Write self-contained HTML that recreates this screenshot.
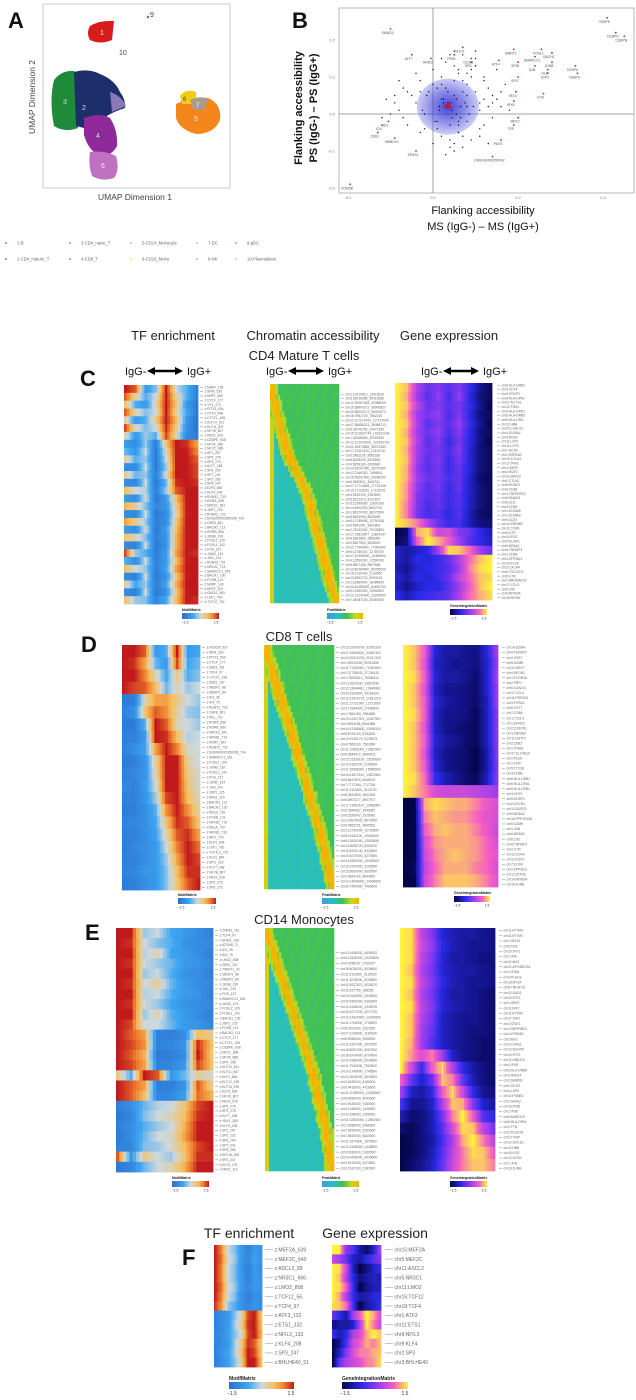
<!DOCTYPE html>
<html><head><meta charset="utf-8"><title>Figure</title>
<style>
html,body{margin:0;padding:0;background:#fff;}
svg{display:block;font-family:"Liberation Sans",sans-serif;}
.hd{font-size:13px;fill:#222;}
.pl{font-size:22px;font-weight:bold;fill:#111;}
</style></head>
<body>
<svg id="fig" width="636" height="1400" viewBox="0 0 636 1400" xmlns="http://www.w3.org/2000/svg">
<defs>
<linearGradient id="gMotif"><stop offset="0" stop-color="#2a6fcf"/><stop offset="0.3" stop-color="#3ea6f2"/><stop offset="0.5" stop-color="#ccd8de"/><stop offset="0.7" stop-color="#f5c060"/><stop offset="0.85" stop-color="#ee7a2c"/><stop offset="1" stop-color="#c01a1c"/></linearGradient>
<linearGradient id="gPeak"><stop offset="0" stop-color="#3d9be6"/><stop offset="0.3" stop-color="#25c0c8"/><stop offset="0.55" stop-color="#3cbf55"/><stop offset="0.8" stop-color="#c8da1c"/><stop offset="1" stop-color="#f8b000"/></linearGradient>
<linearGradient id="gGene"><stop offset="0" stop-color="#05054a"/><stop offset="0.3" stop-color="#2a2ae8"/><stop offset="0.55" stop-color="#9a3cf0"/><stop offset="0.78" stop-color="#f45cc4"/><stop offset="1" stop-color="#fff23c"/></linearGradient>
<radialGradient id="gBlob"><stop offset="0" stop-color="#2020c8" stop-opacity="0.85"/><stop offset="0.6" stop-color="#3a3ad8" stop-opacity="0.55"/><stop offset="1" stop-color="#6a6ae8" stop-opacity="0.35"/></radialGradient>
</defs>

<!-- Panel A -->
<text class="pl" x="8" y="28">A</text>
<g>
<rect x="43" y="4" width="187" height="184" fill="#fff" stroke="#bbb" stroke-width="0.8"/>
<path d="M90,26 Q100,20 114,21 L112,40 Q100,45 90,40 Q86,33 90,26Z" fill="#d81c1c"/>
<path d="M54,80 Q62,70 74,71 L80,78 L78,128 Q65,133 54,126 Q49,100 54,80Z" fill="#1f8a3a"/>
<path d="M74,72 Q88,68 100,74 Q115,80 120,92 Q126,100 125,108 Q112,112 104,118 L84,128 L76,126 Z" fill="#1c2f6a"/>
<path d="M110,92 Q122,96 126,106 L112,112Z" fill="#8a78b8"/>
<path d="M84,118 Q100,112 110,118 Q118,130 117,146 Q112,156 100,156 Q88,150 84,135Z" fill="#8e2a9a"/>
<path d="M90,152 Q104,150 116,156 Q120,170 114,178 Q102,182 92,176 Q88,164 90,152Z" fill="#c070c0"/>
<path d="M176,104 Q190,96 208,98 Q222,104 220,120 Q214,134 196,134 Q180,130 176,118Z" fill="#f5861c"/>
<path d="M180,96 Q186,88 196,92 L196,104 L182,104Z" fill="#f2cc14"/>
<path d="M190,100 Q200,95 208,99 L204,110 L194,110Z" fill="#a89c92"/>
<circle cx="148" cy="17" r="1.2" fill="#c05050"/>
<text x="100" y="35" font-size="7" fill="#eee">1</text>
<text x="150" y="17" font-size="7" fill="#444">9</text>
<text x="119" y="55" font-size="7" fill="#444">10</text>
<text x="63" y="104" font-size="7" fill="#ddd">3</text>
<text x="82" y="110" font-size="7" fill="#ddd">2</text>
<text x="96" y="138" font-size="7" fill="#ddd">4</text>
<text x="101" y="168" font-size="7" fill="#eee">6</text>
<text x="194" y="121" font-size="7" fill="#eee">5</text>
<text x="183" y="101" font-size="6" fill="#444">6</text>
<text x="196" y="107" font-size="6" fill="#eee">7</text>
<text x="135" y="200" font-size="8.5" fill="#444" text-anchor="middle">UMAP Dimension 1</text>
<text x="0" y="0" font-size="8.5" fill="#444" text-anchor="middle" transform="translate(35,97) rotate(-90)">UMAP Dimension 2</text>
</g>

<g id="legend"></g>

<text class="pl" x="292" y="28">B</text>
<g id="scatter"></g>

<text class="hd" x="173" y="340" text-anchor="middle">TF enrichment</text>
<text class="hd" x="313" y="340" text-anchor="middle">Chromatin accessibility</text>
<text class="hd" x="449" y="340" text-anchor="middle">Gene expression</text>

<text class="hd" x="304" y="360" text-anchor="middle">CD4 Mature T cells</text>
<text class="pl" x="80" y="386">C</text>
<text class="hd" x="299" y="641" text-anchor="middle">CD8 T cells</text>
<text class="pl" x="81" y="652">D</text>
<text class="hd" x="304" y="924" text-anchor="middle">CD14 Monocytes</text>
<text class="pl" x="85" y="940">E</text>

<text class="hd" x="249" y="1238" text-anchor="middle" style="font-size:14px">TF enrichment</text>
<text class="hd" x="375" y="1238" text-anchor="middle" style="font-size:14px">Gene expression</text>
<text class="pl" x="182" y="1265">F</text>

<g id="heatmaps"></g>
</svg>

<script>
// ---------------- Scatter data (panel B) ----------------
const labeledNames = ["SMAD3","ATF7","ARID2","OLIG1","TFEB","OLIG3","SPI1","ATF4","DMRT2","FOSL1","BACH1","SMARCC1","SPIB","JUN","JUNB","HLF","JDP2","SPIC","CEBPA","CEBPG","CEBPE","CEBPD","CEBPB","IRX4","FOS","IRX6","MEF2","TEF","PAX3","ENSG00000250542","KDM5B","ID3","ID4","ZEB1","HMBOX1","EPAS1"];
const labeledX = [-0.10,-0.05,-0.005,0.07,0.05,0.09,0.09,0.155,0.19,0.255,0.28,0.24,0.20,0.24,0.28,0.27,0.27,0.20,0.335,0.34,0.41,0.43,0.45,0.195,0.26,0.19,0.20,0.19,0.16,0.14,-0.195,-0.105,-0.12,-0.13,-0.09,-0.04];
const labeledY = [0.23,0.16,0.15,0.18,0.16,0.15,0.14,0.145,0.175,0.175,0.165,0.155,0.14,0.13,0.14,0.12,0.11,0.10,0.13,0.11,0.26,0.22,0.21,0.06,0.055,0.035,-0.01,-0.03,-0.07,-0.115,-0.19,-0.02,-0.03,-0.05,-0.065,-0.10];
const bgX = [0.03,0.05,-0.02,0.08,0.10,0.00,-0.04,0.06,0.12,0.02,-0.06,0.09,0.04,-0.01,0.07,0.11,-0.08,0.13,0.01,0.05,-0.03,0.08,0.14,-0.05,0.02,0.06,0.10,-0.07,0.15,0.00,0.04,0.09,-0.09,0.12,0.03,0.07,-0.02,0.16,0.05,0.01,0.11,-0.04,0.08,0.13,0.06,-0.06,0.02,0.10,0.17,-0.10,0.04,0.14,0.07,-0.03,0.09,0.18,0.00,0.05,0.12,-0.11,
 0.015,0.035,0.055,0.025,0.045,0.065,-0.015,0.075,0.085,0.005,0.035,0.055,0.015,0.045,0.025,0.065,-0.025,0.095,0.03,0.04,0.06,0.02,0.01,0.07,0.05,-0.03,0.08,0.11,0.13,0.06,0.09,0.04,0.07,0.02,0.10,0.12,-0.07,-0.09,0.15,0.16,0.08,0.10,0.07,0.05,0.11,0.14,-0.12,-0.08,0.03,0.06];
const bgY = [0.02,0.05,0.00,-0.02,0.06,0.08,0.03,-0.05,0.04,0.10,-0.03,0.12,-0.07,0.06,0.09,-0.04,0.01,0.07,-0.02,0.13,0.09,0.02,-0.01,0.05,-0.06,0.11,0.15,-0.01,0.04,0.12,-0.09,-0.07,0.03,0.10,0.14,0.16,-0.04,0.02,-0.10,0.07,0.01,0.11,0.08,-0.08,-0.03,0.06,0.04,0.13,0.08,0.00,0.03,0.05,-0.06,-0.05,0.10,0.01,-0.08,0.17,-0.03,0.04,
 0.01,0.03,0.00,0.04,-0.01,0.02,0.05,0.03,0.00,-0.02,0.06,0.04,0.02,0.01,0.03,-0.01,0.01,0.02,0.07,-0.03,-0.02,0.08,-0.04,0.06,0.09,0.06,0.05,0.03,0.02,0.12,0.14,0.16,0.18,0.15,0.17,0.09,0.07,0.05,0.12,0.06,0.11,0.13,-0.09,-0.08,-0.06,0.03,-0.01,0.09,-0.11,-0.05];
const xTicks = [-0.2,0.0,0.2,0.4];
const yTicks = [-0.2,-0.1,0.0,0.1,0.2];

const NS="http://www.w3.org/2000/svg";
function mk(tag, attrs, parent){const e=document.createElementNS(NS,tag);for(const k in attrs)e.setAttribute(k,attrs[k]);parent.appendChild(e);return e;}

const sx = v => 433 + v*425;
const sy = v => 114 - v*370;
(function(){
  const g=document.getElementById('scatter');
  const fr=mk('rect',{x:339,y:8,width:295,height:185,fill:'#fff',stroke:'#999','stroke-width':0.7},g);
  
  
  const v=mk('line',{x1:sx(0),x2:sx(0),y1:8,y2:193,stroke:'#888','stroke-width':0.8},g);
  
  
  const h=mk('line',{x1:339,x2:634,y1:sy(0),y2:sy(0),stroke:'#888','stroke-width':0.8},g);
  
  
  const blob=mk('ellipse',{cx:sx(0.035),cy:sy(0.02),rx:31,ry:28,fill:'url(#gBlob)'},g);
  
  
  bgX.forEach((x,i)=>{
    const c=mk('circle',{cx:sx(x),cy:sy(bgY[i]),r:0.7,fill:'#111'},g);
    
    
  });
  labeledNames.forEach((n,i)=>{
    const c=mk('circle',{cx:sx(labeledX[i]),cy:sy(labeledY[i]),r:0.9,fill:'#d02030'},g);
    
    
    const t=mk('text',{x:sx(labeledX[i])-3,y:sy(labeledY[i])+5,'font-size':3.4,fill:'#555','text-anchor':'middle'},g);
    t.textContent=n;
    
    
  });
  const star=mk('text',{x:sx(0.035),y:sy(0.02)+3,'font-size':9,fill:'#e01010','text-anchor':'middle'},g);
  star.textContent='✱';
  
  
  xTicks.forEach(t=>{
    const l=mk('text',{x:sx(t),y:199,'font-size':4,fill:'#777','text-anchor':'middle'},g);
    l.textContent=t.toFixed(1);
    
    
  });
  yTicks.forEach(t=>{
    const l=mk('text',{x:335,y:sy(t)+1.5,'font-size':4,fill:'#777','text-anchor':'end'},g);
    l.textContent=t.toFixed(1);
    
    
  });
  const x1=mk('text',{x:483,y:214,'font-size':11,fill:'#111','text-anchor':'middle'},g);
  x1.textContent='Flanking accessibility';
  
  
  const x2=mk('text',{x:483,y:230,'font-size':11,fill:'#111','text-anchor':'middle'},g);
  x2.textContent='MS (IgG-) – MS (IgG+)';
  
  
  const y1=mk('text',{x:0,y:0,'font-size':11,'font-weight':'bold',fill:'#111','text-anchor':'middle',transform:'translate(302,108) rotate(-90)'},g);
  y1.textContent='Flanking accessibility';
  
  
  const y2=mk('text',{x:0,y:0,'font-size':11,'font-weight':'bold',fill:'#111','text-anchor':'middle',transform:'translate(317,108) rotate(-90)'},g);
  y2.textContent='PS (IgG-) – PS (IgG+)';
  
  
})();

// ---------------- Legend ----------------
const legendNames = ["1-B","3-CD4_naive_T","5-CD14_Monocyte","7-DC","9-pDC","2-CD4_mature_T","4-CD8_T","6-CD16_Mono","8-NK","10-Plasmablast"];
const legendColors = ["#d81c1c","#1f8a3a","#f5861c","#a89c92","#c05050","#1c2f6a","#8e2a9a","#f2cc14","#8a78b8","#aaa"];
(function(){
  const g=document.getElementById('legend');
  const cx=[6,70,131,197,236];
  legendNames.forEach((n,i)=>{
    const col=i%5,row=Math.floor(i/5);
    const y=243+row*16;
    const d=mk('circle',{cx:cx[col],cy:y,r:0.8,fill:legendColors[i]},g);
    
    
    const t=mk('text',{x:cx[col]+11,y:y+1.5,'font-size':4.2,fill:'#666'},g);
    t.textContent=n;
    
    
  });
})();

// ---------------- Heatmap data ----------------
const tfC = [
[1.5,1.2,-0.8,-0.3,1.5,0,-0.5,-1.2],[1.2,0.3,-0.5,0,1.5,0.3,-0.5,-1.2],[0.5,-0.5,-0.8,0.2,1.5,0.5,-0.8,-1.3],[1.2,0.2,-0.3,0,1.5,0.3,-0.6,-1.3],
[0.3,-0.8,-0.5,0.4,1.5,0.6,-0.8,-1.4],[1.3,0.1,-0.3,0,1.4,0.4,-0.9,-1.4],[0.2,-0.8,-0.2,-0.5,1.3,0.2,-1,-1.3],[-0.8,-1,-0.2,-1.2,0.5,1.5,1.4,0.8],
[-0.4,-0.8,0,-1.3,0.2,1.5,1.5,1.0],[0.3,-0.5,-0.2,-1.3,0,1.5,1.5,1.2],[-1,-1,0,-1.3,-0.2,1.5,1.5,1.3],[0.4,-0.4,-0.2,-1.2,0.1,1.5,1.5,1.3],
[-1,-1.1,0,-1.3,-0.4,1.4,1.5,1.4],[0.6,0,-0.1,-1.2,-0.2,1.2,1.5,1.5],[-0.8,-1,0.1,-1.3,-0.8,0.6,1.5,1.5],[0.7,0.3,-0.3,-1.1,-0.9,0.4,1.5,1.5],
[-1,-1.1,0,-1.3,-1,0.3,1.5,1.5],[0.8,0.4,-0.2,-1.2,-1,0.5,1.5,1.5],[-0.8,-1,0.1,-1.3,-0.8,0.6,1.5,1.5],[0.5,0.2,-0.3,-1.2,-0.9,0.7,1.5,1.5],
[-1,-1.2,0,-1.3,-0.9,0.7,1.5,1.5],[1.3,-0.2,-0.5,-1.2,-0.8,0.8,1.5,1.4],[-0.5,-1,0,-1.2,-0.8,0.6,1.5,1.5],[0.6,0,-0.2,-1.2,-0.7,0.8,1.5,1.5],
[-1,-1.2,0,-1.3,-0.9,0.5,1.5,1.5],[0.3,-0.6,-0.2,-1.2,-0.7,0.7,1.5,1.5],[-1,-1.2,0,-1.3,-0.9,0.5,1.5,1.5],[0.5,-0.2,-0.3,-1.1,-0.6,0.6,1.5,1.4]];
const tfD = [
[1.5,1.5,1.2,-0.8,-0.5,1.5,-0.8,-0.6],[1.5,1.4,0.8,-0.4,-0.8,1.3,-0.6,-0.4],[1.5,1.5,1.0,0.2,-0.6,0.4,-0.5,-0.3],[1.5,1.3,1.2,0.6,-0.4,0.2,-0.2,0],
[-1.3,-1.2,0.2,0.8,0.8,0.4,0,-0.2],[-1.2,-1.0,0.5,1.2,0.9,0.3,-0.2,-0.3],[-1.3,-1.3,-0.5,1.5,1.2,0.2,0,-0.2],[-1.2,-1.2,-0.8,1.5,1.4,0.6,-0.1,0],
[-1.2,-1.0,-0.7,0.8,1.5,1.0,0.1,0],[-1.3,-1.2,-0.9,0.3,1.5,1.5,0.3,0],[-1.2,-1.1,-0.9,0.2,1.5,1.5,0.4,0.1],[-1.1,-1.2,-0.8,0,1.5,1.5,0.5,0.1],
[-1.2,-1.2,-0.9,-0.2,1.3,1.5,0.6,0.2],[-1.3,-1.2,-1,-0.5,0.9,1.5,0.9,0.3],[-1.2,-1.1,-1,-0.6,0.5,1.4,1.2,0.5],[-1.2,-1.2,-1,-0.7,0.2,1.2,1.4,0.8],
[-1.3,-1.1,-1,-0.8,0,1,1.5,1.1],[-1.2,-1.2,-1,-0.8,-0.2,0.8,1.5,1.3],[-1.2,-1.1,-0.9,-0.8,-0.3,0.6,1.4,1.4],[-1.3,-1.2,-1,-0.8,-0.3,0.5,1.2,1.5]];
const tfE = [
[1.5,1.5,-0.2,0,-0.6,-0.8,-1,-1.2],[1.5,1.4,0,-0.3,-0.5,-0.9,-1,-1.1],[1.5,1.5,-0.1,0.2,-0.6,-0.8,-1,-1.2],[1.5,1.4,0,-0.2,-0.4,-0.8,-0.9,-1.1],
[1.5,1.5,-0.2,0,-0.5,-0.9,-1,-1.2],[1.5,1.4,0,0.3,-0.4,-0.8,-1,-1.1],[1.5,1.5,-0.1,0,-0.5,-0.8,-0.9,-1.2],[1.5,1.4,0,-0.2,-0.6,-0.9,-1,-1.1],
[1.5,1.5,-0.2,0.2,-0.5,-0.8,-1,-1.2],[1.5,1.3,0,0,-0.4,-0.8,-0.9,-1.1],[1.5,1.2,0.8,-1.2,-1.2,-1,0.6,0.4],[1.5,1.3,0.9,-1.2,-1.1,-0.9,1.4,0.6],
[1.5,1.2,0.7,-1.3,-1.2,-1,1.5,0.5],[1.5,1.3,0.8,-1.2,-1.1,-0.8,1.3,0.6],[0.4,-0.5,1.5,1.2,-0.8,-0.4,0.3,0.1],[1.5,1.2,0.8,-1.2,-1.2,-0.9,1.2,0.4],
[1.5,1.2,0.6,-1.1,-1.1,-0.7,1.1,0.7],[-1.2,-1,-0.4,-0.1,0,0.5,1.3,1.5],[-1.3,-1.1,-0.3,0,0.2,0.6,1.4,1.5],[-1.2,-1,-0.5,-0.2,0,0.7,1.5,1.5],
[-1.3,-1,-0.4,0,0.1,0.8,1.5,1.5],[-1.2,-1.1,-0.3,-0.2,0.1,0.6,1.3,1.5],[1.2,-0.8,0.4,0,-0.2,0.5,1.4,1.4],[-1.3,-1.1,-0.4,0,0.2,0.7,1.5,1.5]];
const chromPeakC = [0.02,0.03,0.05,0.07,0.09,0.11,0.13,0.15,0.17,0.19,0.21,0.23,0.26,0.29,0.32,0.36,0.40,0.44,0.48,0.52,0.55,0.57,0.59,0.61,0.63,0.65,0.67,0.69,0.71,0.73,0.75,0.77,0.79,0.81,0.83,0.85,0.87,0.90,0.93,0.96];
const chromPeakD = [0.03,0.05,0.08,0.10,0.13,0.15,0.18,0.20,0.23,0.26,0.28,0.31,0.33,0.36,0.39,0.41,0.44,0.47,0.49,0.52,0.55,0.57,0.60,0.62,0.65,0.67,0.70,0.72,0.75,0.77,0.80,0.82,0.84,0.86,0.88,0.90,0.92,0.94,0.96,0.98];
const chromPeakE = [0.02,0.04,0.07,0.10,0.13,0.16,0.19,0.22,0.25,0.28,0.31,0.34,0.37,0.40,0.43,0.46,0.49,0.52,0.55,0.58,0.61,0.63,0.66,0.68,0.71,0.73,0.75,0.77,0.79,0.81,0.83,0.85,0.87,0.89,0.90,0.92,0.93,0.94,0.95,0.96];
const geneC = [
[1.5,1.3,0.3,-0.2,0,-0.3,0,-0.5,-1.1,-1.4],[1.5,1.2,0.2,-0.3,0.1,-0.4,0.1,-0.6,-1.2,-1.4],[1.5,1.3,0.4,-0.2,0,-0.3,-0.1,-0.5,-1.1,-1.5],[1.5,1.2,0.2,-0.1,0.1,-0.4,0,-0.6,-1.2,-1.4],
[1.5,1.3,0.3,-0.3,0,-0.3,0.1,-0.5,-1.1,-1.5],[1.5,1.2,0.2,-0.2,0.1,-0.4,0,-0.6,-1.2,-1.4],[1.5,1.3,0.3,-0.3,0,-0.5,-0.1,-0.6,-1.2,-1.5],[1.5,1.2,0.2,-0.2,-0.1,-0.4,0,-0.7,-1.2,-1.4],
[1.5,1.3,0.2,-0.3,0,-0.5,-0.1,-0.7,-1.2,-1.4],[1.5,1.2,0.1,-0.3,-0.1,-0.5,-0.2,-0.7,-1.2,-1.4],[1.5,1.2,0.2,-0.2,-0.1,-0.4,-0.2,-0.8,-1.3,-1.4],[1.5,1.1,0.1,-0.3,-0.1,-0.5,-0.2,-0.8,-1.2,-1.4],
[1.5,1.1,0,-0.3,-0.2,-0.5,-0.3,-0.8,-1.2,-1.4],[1.5,1.0,0,-0.4,-0.2,-0.5,-0.3,-0.8,-1.2,-1.4],[1.5,1.0,-0.1,-0.4,-0.3,-0.6,-0.3,-0.9,-1.3,-1.4],[1.5,1.3,1.0,0.3,-0.2,-0.5,-0.4,-0.9,-1.2,-1.3],
[-1.5,-1.3,1.2,1.4,0.5,0.6,0,-0.2,-0.6,-0.9],[-1.4,-1.2,0.8,1.5,1.2,0.8,0.2,-0.3,-0.6,-0.8],[-0.8,-1,-0.8,-0.6,0.2,1.4,1.3,0.9,0.2,-0.2],[-0.8,-1,-0.6,-0.7,-0.5,-0.2,0.3,0.9,1.3,1.5],
[-0.9,-1.1,-0.7,-0.6,-0.5,-0.3,0.2,1.0,1.4,1.5],[-0.7,-1,-0.6,-0.7,-0.5,-0.2,0.4,0.9,1.3,1.4],[-0.8,-1.1,-0.8,-0.6,-0.6,-0.3,0.2,0.8,1.3,1.5],[-0.6,-0.9,-0.6,-0.5,-0.4,-0.2,0.3,0.9,1.2,1.4]];
const geneD = [
[1.5,1.3,0.8,-0.7,-1,-1,-1.1,-1.2,-0.7,0.2],[1.5,1.3,0.7,-0.8,-1,-1.1,-1.1,-1.2,-0.8,0.1],[1.5,1.4,0.8,-0.7,-1,-1,-1.1,-1.3,-0.8,0.2],[1.5,1.3,0.7,-0.8,-1.1,-1.1,-1.2,-1.3,-0.8,0.1],
[1.5,1.3,0.8,-0.7,-1,-1.1,-1.2,-1.3,-0.9,0.1],[1.5,1.4,0.8,-0.8,-1.1,-1.1,-1.2,-1.4,-0.9,0],[1.5,1.3,0.7,-0.8,-1.1,-1.2,-1.3,-1.4,-0.9,0],[1.5,1.3,0.8,-0.7,-1,-1.1,-1.3,-1.4,-0.9,0],
[1.5,1.3,0.7,-0.8,-1.1,-1.2,-1.3,-1.5,-1,0],[1.5,1.3,0.8,-0.7,-1.1,-1.2,-1.3,-1.5,-1,-0.1],[1.5,1.4,0.9,-0.5,-0.9,-1.1,-1.3,-1.4,-0.9,0],[1.5,1.3,1.0,0.6,0.5,0.5,0.5,0.4,0.3,0.2],
[-1.5,-1.5,1.2,1.4,1.3,1.2,1.2,1.0,0.8,0.6],[-1.5,-1.5,1.0,1.3,1.2,1.1,1.1,0.9,0.7,0.6],[-1.5,-1.5,0.8,1.2,1.3,1.2,1.2,1.0,0.8,0.5],[-1.5,-1.5,0.6,1.1,1.2,1.2,1.2,1.1,0.9,0.6],
[-1.5,-1.5,0.5,1.0,1.2,1.3,1.2,1.1,0.9,0.7],[-1.5,-1.4,0.4,0.9,1.2,1.2,1.2,1.0,0.9,0.6],[-1.5,-1.5,0.5,1.0,1.3,1.3,1.3,1.2,1.0,0.7]];
const geneE = [
[1.5,1.4,0.4,0,-0.7,-0.9,-1,-1,-1.1,-1.2],[1.5,1.4,0.5,0.1,-0.6,-0.9,-1,-1.1,-1.1,-1.2],[1.5,1.4,0.4,0,-0.7,-1,-1,-1.1,-1.2,-1.2],[1.5,1.3,0.3,-0.1,-0.7,-0.9,-1,-1,-1.1,-1.2],
[1.5,1.4,0.4,0,-0.6,-0.9,-1,-1.1,-1.1,-1.2],[1.5,1.3,0.3,-0.1,-0.7,-1,-1,-1.1,-1.2,-1.3],[1.5,1.4,0.4,0,-0.7,-0.9,-1,-1.1,-1.2,-1.3],[1.5,1.3,0.3,-0.1,-0.8,-1,-1.1,-1.1,-1.2,-1.3],
[1.5,1.3,0.2,-0.2,-0.8,-1,-1.1,-1.2,-1.2,-1.3],[1.5,1.2,0.2,-0.3,-0.8,-1,-1.1,-1.2,-1.3,-1.3],[1.5,1.1,0.6,1.0,0.2,-0.8,-1.1,-1.2,-1.3,-1.3],[1.5,0.5,-0.5,0.8,1.4,0.3,-0.6,-1,-1.2,-1.3],
[0.8,-0.2,-0.8,-0.2,1.3,1.0,-0.2,-0.9,-1.2,-1.3],[0.2,-0.8,-1,-0.6,0.8,1.4,0.5,-0.6,-1.1,-1.2],[-0.4,-1.1,-1.1,-0.8,0.3,1.3,1.2,0,-0.8,-1],[-0.9,-1.3,-1.2,-0.9,-0.1,1.0,1.5,0.8,-0.3,-0.6],
[-1.3,-1.4,-1.2,-0.9,-0.3,0.6,1.4,1.3,0.4,-0.1],[-1.5,-1.4,-1.2,-1,-0.4,0.3,1.2,1.5,1.0,0.4],[-1.5,-1.4,-1.2,-0.9,-0.3,0.4,1.0,1.4,1.3,0.8],[-1.5,-1.3,-1.1,-0.8,-0.2,0.5,1.0,1.3,1.3,1.0]];
const tfF = [
[1.5,1.0,0,-0.3,-0.8,-1.2,-0.8,-0.9],[1.5,1.1,0.1,-0.2,-0.8,-1.1,-0.7,-0.9],[1.5,1.0,0,-0.3,-0.9,-1.2,-0.8,-1],[1.5,1.0,0,-0.3,-0.8,-1.2,-0.8,-0.9],
[1.5,1.1,0.1,-0.2,-0.8,-1.1,-0.8,-0.9],[1.5,1.0,0,-0.3,-0.9,-1.2,-0.9,-1],[1.4,0.9,-0.2,-0.5,-0.9,-1.1,-0.9,-1],
[-1.2,-1,-0.8,-0.3,0.2,1.3,1.5,0.5],[-1.2,-1,-0.8,-0.2,0.3,1.4,1.5,0.6],[-1.1,-1,-0.7,-0.3,0.1,1.3,1.5,0.7],[-1.2,-1,-0.8,-0.2,0.4,1.4,1.2,0.4],[-1.2,-0.9,-0.7,-0.2,0.5,1.5,1.3,0.5],[-1.2,-1,-0.7,-0.3,0.3,1.5,1.5,0.6]];
const geneF = [
[1.5,1.5,0,-0.3,-1,-1.3,-0.8,0.3],[0.5,0.2,-0.2,-0.8,-1,-0.6,-0.3,0],[1.5,1.4,0.5,-0.8,-1.5,-1.2,-0.8,-0.5],[1.5,1.3,0.3,-0.6,-1.2,-1,-0.8,-0.9],
[1.5,1.4,0.8,-0.5,-1.5,-1.1,-0.9,-0.8],[1.5,1.2,0.3,-0.5,-1,-0.9,-0.7,-0.6],[1.4,1.3,0.9,-0.4,-1.5,-1,-0.8,-0.5],[-0.2,-0.6,-1,0.2,0.8,1.5,1.2,0.6],
[-1.2,-1,-1,-0.8,0.3,1.5,1.0,0.5],[-0.5,-0.9,-0.6,0.3,0.6,1.2,1.5,1.3],[-1.5,-1.1,-0.4,0.5,0.8,1.2,1.0,1.3],[-1.5,-0.8,0,0.6,1.0,1.0,1.2,1.3],[-1.5,-0.2,0.3,0.5,0.7,1.0,1.1,1.4]];

const tfLabelsC = ["z:MAFF_155","z:SPIB_336","z:NRF1_605","z:CTCF_177","z:YY1_173","z:PITX3_504","z:OTX2_848","z:CTCFL_198","z:KLF14_201","z:KLF11_847","z:NFYB_807","z:PBX3_516","z:CEBPE_938","z:NFYA_288","z:NFYC_889","z:SP1_267","z:SP5_275","z:SP3_274","z:KLF7_188","z:SP6_290","z:SP7_241","z:SP2_283","z:SP8_247","z:E2F6_846","z:KLF4_208","z:RUNX1_733","z:RORA_658","z:NR1D2_641","z:JDP2_125","z:RUNX2_732","z:ENSG00000250096_734","z:CBFB_801","z:BACH2_113","z:RORB_860","z:JUNB_139","z:FOSL2_105","z:FOSL1_142","z:FOS_137","z:JUND_124","z:JUN_143","z:RUNX3_731","z:NR1D1_713","z:SMARCC1_651","z:BACH1_130","z:FOSB_121","z:NNRF_143","z:NFE2_119","z:GATA1_383","z:LEF1_780","z:TCF12_792"];
const tfLabelsD = ["z:HOXD8_537","z:IRF8_633","z:PITX3_504","z:CTCF_177","z:ZEB1_161","z:TCF4_97","z:CTCFL_198","z:ZEB1_157","z:MESP1_88","z:MESP2_84","z:ID3_35","z:ID4_75","z:RUNX1_733","z:CBFB_801","z:REL_721","z:RORA_658","z:RORB_860","z:NR1D2_641","z:NFKB1_719","z:RORC_661","z:RUNX2_732","z:ENSG00000250096_734","z:SMARCC1_651","z:FOSL2_105","z:JUNB_139","z:FOSL1_142","z:FOS_137","z:JUND_124","z:JUN_143","z:JDP2_125","z:NFE2_119","z:BACH2_113","z:BACH1_130","z:RELB_718","z:FOSB_121","z:NFKB2_719","z:RELA_722","z:NFKB1_716","z:IRF2_720","z:KLF4_208","z:LEF1_780","z:TCF7L2_762","z:KLF2_849","z:SPI1_322","z:KLF7_188","z:NFYB_807","z:PBX3_516","z:SP6_275","z:SP8_273"];
const tfLabelsE = ["z:ZNF82_161","z:TCF4_97","z:SNAI1_199","z:ATOH8_71","z:ID3_35","z:ID4_75","z:LMO2_808","z:ZEB1_157","z:TWIST1_42","z:MESP1_88","z:MESP2_84","z:JUNB_139","z:JUN_143","z:FOS_137","z:SMARCC1_651","z:JUND_124","z:FOSL2_105","z:FOSL1_142","z:BACH1_130","z:JDP2_125","z:FOSB_121","z:BACH2_113","z:CTCF_177","z:CTCFL_198","z:CEBPE_938","z:NFYC_808","z:NFYA_888","z:SP4_195","z:KLF14_201","z:KLF11_847","z:KLF2_846","z:KLF12_238","z:KLF15_878","z:KLF5_698","z:NFYB_807","z:PBX3_516","z:SP5_275","z:SP3_278","z:KLF7_188","z:YBX1_280","z:KLF4_208","z:SP1_267","z:SP9_232","z:SP6_290","z:SP7_241","z:SP8_283","z:KLF16_205","z:SP2_247","z:KLF6_175","z:NFE2_119"];
const chromLabelsC = ["chr1:13019810_13019810","chr5:35415086_35415086","chr12:92087509_92088009","chr19:38900272_38900827","chr20:58000172_58000672","chr16:7961725_7962225","chr11:117217040_117217640","chr17:38488213_38488713","chr6:24076750_24077250","chr15:101821744_101822244","chr1:32008660_32009160","chr12:121000200_121000700","chr21:46973882_46974382","chr17:13110210_13110710","chr5:3861128_3861628","chr8:8228030_8228530","chr4:6299180_6299680","chr14:35797400_35797900","chr12:7466300_7466800","chr16:59297600_59298100","chr6:3840811_3841311","chr17:17714648_17715148","chr10:17118225_17118725","chr4:9163100_9163600","chr5:8131313_8131813","chr3:12599660_12600160","chr14:6522200_6522700","chr1:86270000_86270500","chr8:8633095_8633595","chr5:12789608_12790108","chr6:5641391_5641891","chr2:79133300_79133800","chr17:23813647_23814147","chr8:2867860_2868360","chr2:6527500_6528000","chr11:77900400_77900900","chr5:12789200_12789700","chr17:12456000_12456500","chr4:12599200_12599700","chr5:9507158_9507658","chr14:66764500_66765000","chr16:2130000_2130500","chr10:8392715_8393215","chr1:16484000_16484500","chr11:64455200_64455700","chr9:12950000_12950500","chr12:12290000_12290500","chr7:34087150_34087650"];
const chromLabelsD = ["chr13:32090709_32091209","chr17:34066824_34067324","chr12:20216700_20217200","chr1:50910050_50910550","chr11:71300000_71300500","chr2:37735643_37736143","chr1:76065612_76066112","chr1:13810030_13810530","chr11:13944481_13944981","chr3:15163600_15164100","chr13:12810715_12811215","chr11:12721300_12721800","chr3:17644920_17645420","chr1:7884180_7884680","chr10:12427001_12427501","chr2:8941188_8941688","chr10:13188600_13189100","chr5:8752100_8752600","chr13:9139179_9139679","chr4:7563160_7563660","chr11:12862000_12862500","chr6:3844472_3844972","chr12:15230100_15230600","chr10:2162100_2162600","chr11:15956000_15956500","chr14:14672161_14672661","chr4:8447600_8448100","chr7:7717284_7717784","chr11:3113200_3113700","chr8:3541800_3542300","chr6:8907477_8907977","chr17:13962167_13962667","chr2:3944957_3945457","chr8:3326042_3326542","chr12:8979000_8979500","chr5:4565151_4565651","chr1:12730000_12730500","chr8:15181100_15181600","chr5:13520150_13520650","chr13:5008720_5009220","chr12:5320140_5320640","chr10:5270000_5270500","chr4:15300000_15300500","chr13:3190000_3190500","chr15:5600000_5600500","chr3:8944100_8944600","chr14:14008000_14008500","chr20:7460000_7460500"];
const chromLabelsE = ["chr13:4436432_4436932","chr6:13325000_13325500","chr4:3798797_3799297","chr16:5036000_5036500","chr11:5116000_5116500","chr11:3218000_3218500","chr12:9227870_9228370","chr16:157755_158255","chr10:3444500_3445000","chr20:5300000_5300500","chr12:2448200_2448700","chr15:4271200_4271700","chr13:14325000_14325500","chr11:1706000_1706500","chr8:2521000_2521500","chr17:1130000_1130500","chr6:9058400_9058900","chr11:2307000_2307500","chr18:8087000_8087500","chr18:8704000_8704500","chr10:5346000_5346500","chr11:7940000_7940500","chr14:1748000_1748500","chr12:3618000_3618500","chr3:6180000_6180500","chr5:4418000_4418500","chr11:11390000_11390500","chr8:9090000_9090500","chr1:9180000_9180500","chr2:1448000_1448500","chr3:1258000_1258500","chr11:12800000_12800500","chr1:9288000_9288500","chr2:5250000_5250500","chr1:5840000_5840500","chr11:1874000_1874500","chr12:1448000_1448500","chr9:9180000_9180500","chr14:4436000_4436500","chr3:9470000_9470500","chr2:2187100_2187600"];
const geneLabelsC = ["chr6:HLA-DRB1","chr3:CD74","chr9:FOXP3","chr6:HLA-DPA1","chr17:ACTG1","chr12:TMA1","chr6:HLA-DPB1","chr6:HLA-DRB5","chr6:HLA-DRA","chr11:HBB","chr20:LGALS1","chr1:S100A4","chr3:RGS1","chr11:LSP1","chr11:LCP2","chr7:ACTB","chr1:HSPA1B","chr19:CTLA4","chr17:IFIH1","chr1:CBFB","chr2:IKZF2","chr11:MAGI3","chr2:CTLA4","chr6:RUNX3","chr6:CD83","chr1:TNFRSF18","chr5:SMAD3","chr6:CD2","chr3:CD69","chr1:S100A8","chr1:S100A9","chr5:CD27","chr12:ZNF683","chr11:CCR6","chr5:IL7R","chr14:FOS","chr5:DUSP1","chr5:NR4A1","chr6:TNFAIP3","chr1:CD69","chr2:ZFP36L2","chr19:KLF6","chr3:CXCR4","chr6:TSC22D3","chr5:IL7R","chr2:ARHGAP15","chr17:CCL5","chr6:LTB","chr6:NFKBIA","chr15:RORA"];
const geneLabelsD = ["chr14:GZMH","chr4:FGFBP2","chr2:CRK7","chr5:GZMB","chr12:NKG7","chr4:SPON2","chr1:FCGR3A","chr2:PRF1","chr6:LGALS1","chr17:CCL4","chr11:PRSS23","chr3:FCRL6","chr5:CST7","chr7:CD8A","chr17:CCL3","chr1:EFHD2","chr2:CX3CR1","chr1:ZNF683","chr11:GSTP1","chr2:ZEB2","chr1:ITGB2","chr17:SLC4A10","chr2:PLEK","chr1:FGR","chr5:TTC38","chr3:CD8B","chr6:HLA-DRB1","chr6:HLA-DPA1","chr6:HLA-DPB1","chr14:FOS","chr5:DUSP1","chr2:CXCR4","chr12:DUSP2","chr9:NR4A2","chr16:PPP1R15A","chr5:GZMK","chr1:JUN","chr6:NR4A3","chr6:LTB","chr6:TNFAIP3","chr2:IL7R","chr12:CCR4","chr11:IKZF2","chr7:CCR4","chr2:ZFP36L2","chr12:ZFP36","chr14:NFKBIA","chr19:JUNB"];
const geneLabelsE = ["chr11:IFITM3","chr11:IFITM1","chr1:ISG15","chr6:CFB","chr10:IFIT1","chr1:IFI6","chr21:MX1","chr22:APOBEC3A","chr1:IFI44L","chr4:PLAC8","chr16:MT2A","chr8:TNFSF10","chr12:OAS1","chr10:IFIT3","chr1:GBP1","chr11:IRF7","chr11:IFITM2","chr17:SAT1","chr2:STAT1","chr1:SERPING1","chr14:PSME2","chr2:MX2","chr12:OAS2","chr12:DUSP6","chr10:IFIT2","chr11:UBE2L6","chr1:IFI16","chr6:HLA-DRB5","chr2:RNF14","chr2:SAMD9","chr2:GCG2","chr4:LAP3","chr11:PSME1","chr2:GNAQ","chr16:IFI35","chr1:IFI30","chr6:MARCKS","chr6:HLA-DPA1","chr1:TTN","chr2:PLSCR1","chr2:TYMP","chr12:SOCS1","chr11:HBB","chr14:FOS","chr12:GOS2","chr1:JUN","chr19:JUNB"];
const tfLabelsF = ["z:MEF2A_639","z:MEF2C_640","z:ASCL2_89","z:NR3C1_666","z:LMO2_808","z:TCF12_56","z:TCF4_97","z:ATF3_132","z:ETS1_332","z:NFIL3_133","z:KLF4_208","z:SP3_247","z:BHLHE40_51"];
const geneLabelsF = ["chr15:MEF2A","chr5:MEF2C","chr11:ASCL2","chr5:NR3C1","chr11:LMO2","chr15:TCF12","chr18:TCF4","chr1:ATF3","chr11:ETS1","chr9:NFIL3","chr9:KLF4","chr2:SP3","chr3:BHLHE40"];

// ---------------- color scales ----------------
const motifStops=[[-1.5,[42,111,207]],[-0.6,[62,166,242]],[0,[204,216,222]],[0.6,[245,192,96]],[1.05,[238,122,44]],[1.5,[192,26,28]]];
const peakStops=[[-1.5,[61,155,230]],[-0.6,[37,192,200]],[0.15,[60,191,85]],[0.9,[200,218,28]],[1.5,[248,176,0]]];
const geneStops=[[-1.5,[5,5,74]],[-0.6,[42,42,232]],[0.15,[154,60,240]],[0.85,[244,92,196]],[1.5,[255,242,60]]];
function col(stops,v){
  if(v<=stops[0][0])return 'rgb('+stops[0][1]+')';
  for(let i=1;i<stops.length;i++){
    if(v<=stops[i][0]){const a=stops[i-1],b=stops[i];const t=(v-a[0])/(b[0]-a[0]);
      return 'rgb('+a[1].map((c,k)=>Math.round(c+(b[1][k]-c)*t)).join(',')+')';}
  }
  return 'rgb('+stops[stops.length-1][1]+')';
}
const HG=document.getElementById('heatmaps');

function drawMatrix(name,x,y,w,h,mat,stops,sub){
  const g=mk('g',{},HG);
  
  
  const nr=mat.length,nc=mat[0].length;
  const rh=h/nr;
  const ns=(nc-1)*sub;
  mat.forEach((row,r)=>{
    for(let s=0;s<=ns;s++){
      const pos=s/sub;const i=Math.min(Math.floor(pos),nc-2);const t=pos-i;
      const v=row[i]*(1-t)+row[i+1]*t;
      const cw=w/(ns+1);
      const rc=mk('rect',{x:(x+s*cw).toFixed(2),y:(y+r*rh).toFixed(2),width:(cw+0.4).toFixed(2),height:(rh+0.4).toFixed(2),fill:col(stops,v)},g);
      
      
    }
  });
}
function drawChrom(name,x,y,w,h,peaks){
  const g=mk('g',{},HG);
  
  
  const nr=peaks.length,nc=34,rh=h/nr,cw=w/nc;
  peaks.forEach((p,r)=>{
    for(let c=0;c<nc;c++){
      const xx=(c+0.5)/nc;const d=Math.abs(xx-p);
      let v= xx<p ? -0.45 : 0.2;
      if(xx<0.05) v=1.1;
      if(d<0.1) v=0.8;
      if(d<0.05) v=1.5;
      if((r+c)%5===0) v-=0.25;
      const rc=mk('rect',{x:(x+c*cw).toFixed(2),y:(y+r*rh).toFixed(2),width:(cw+0.3).toFixed(2),height:(rh+0.3).toFixed(2),fill:col(peakStops,v)},g);
      
      
    }
  });
}
function drawLabels(name,x,y,h,labels,fs,lineLen){
  const g=mk('g',{},HG);
  
  
  const step=h/labels.length;
  labels.forEach((l,i)=>{
    const yy=y+step*(i+0.5);
    const ln=mk('line',{x1:x,x2:x+lineLen,y1:yy,y2:yy,stroke:'#333','stroke-width':fs>5?0.7:0.3},g);
    
    
    const t=mk('text',{x:x+lineLen+1.5,y:yy+fs*0.35,'font-size':fs,fill:fs>5?'#333':'#666'},g);
    t.textContent=l;
    
    
  });
}
function colorbar(name,title,x,y,w,h,grad,fs){
  const g=mk('g',{},HG);
  
  
  const t=mk('text',{x:x,y:y-2,'font-size':fs,'font-weight':'bold',fill:'#222'},g);
  t.textContent=title;
  
  
  const r=mk('rect',{x:x,y:y,width:w,height:h,fill:'url(#'+grad+')'},g);
  
  
  const a=mk('text',{x:x+3,y:y+h+fs+1,'font-size':fs,fill:'#333','text-anchor':'middle'},g);
  a.textContent='−1.5';
  
  
  const b=mk('text',{x:x+w-3,y:y+h+fs+1,'font-size':fs,fill:'#333','text-anchor':'middle'},g);
  b.textContent='1.5';
  
  
}
function igArrow(x,y){
  const g=mk('g',{},HG);
  
  
  const a=mk('text',{x:x,y:y+4,'font-size':11,fill:'#111'},g);a.textContent='IgG-';
  
  
  mk('line',{x1:x+27,x2:x+53,y1:y,y2:y,stroke:'#000','stroke-width':2.5},g);
  mk('polygon',{points:`${x+22},${y} ${x+30},${y-4} ${x+30},${y+4}`,fill:'#000'},g);
  mk('polygon',{points:`${x+58},${y} ${x+50},${y-4} ${x+50},${y+4}`,fill:'#000'},g);
  const b=mk('text',{x:x+62,y:y+4,'font-size':11,fill:'#111'},g);b.textContent='IgG+';
  
  
}

// Panel C
igArrow(125,371);igArrow(266,371);igArrow(421,371);
drawMatrix('tf-heatmap-c',124,385,74,219,tfC,motifStops,4);
drawLabels('tf-labels-c',200,385,219,tfLabelsC,3.3,3);
drawChrom('chromatin-heatmap-c',270,384,69,219,chromPeakC);
drawLabels('chromatin-labels-c',341,392,210,chromLabelsC,3.3,3);
drawMatrix('gene-heatmap-c',395,383,97,217,geneC,geneStops,4);
drawLabels('gene-labels-c',497,383,217,geneLabelsC,3.3,3);
colorbar('motif-colorbar-c','MotifMatrix',182,613,37,6,'gMotif',3.5);
colorbar('peak-colorbar-c','PeakMatrix',327,613,36,6,'gPeak',3.5);
colorbar('gene-colorbar-c','GeneIntegrationMatrix',450,609,37,6,'gGene',3.5);

// Panel D
drawMatrix('tf-heatmap-d',122,645,78,245,tfD,motifStops,4);
drawLabels('tf-labels-d',202,645,245,tfLabelsD,3.3,3);
drawChrom('chromatin-heatmap-d',264,645,70,244,chromPeakD);
drawLabels('chromatin-labels-d',336,645,244,chromLabelsD,3.3,3);
drawMatrix('gene-heatmap-d',403,645,95,242,geneD,geneStops,4);
drawLabels('gene-labels-d',502,645,242,geneLabelsD,3.3,3);
colorbar('motif-colorbar-d','MotifMatrix',178,898,38,6,'gMotif',3.5);
colorbar('peak-colorbar-d','PeakMatrix',322,898,37,6,'gPeak',3.5);
colorbar('gene-colorbar-d','GeneIntegrationMatrix',454,896,36,6,'gGene',3.5);

// Panel E
drawMatrix('tf-heatmap-e',116,928,97,244,tfE,motifStops,4);
drawLabels('tf-labels-e',215,928,244,tfLabelsE,3.3,3);
drawChrom('chromatin-heatmap-e',265,928,69,243,chromPeakE);
drawLabels('chromatin-labels-e',336,950,221,chromLabelsE,3.3,3);
drawMatrix('gene-heatmap-e',400,928,95,243,geneE,geneStops,4);
drawLabels('gene-labels-e',499,928,243,geneLabelsE,3.3,3);
colorbar('motif-colorbar-e','MotifMatrix',172,1181,37,6,'gMotif',3.5);
colorbar('peak-colorbar-e','PeakMatrix',322,1181,37,6,'gPeak',3.5);
colorbar('gene-colorbar-e','GeneIntegrationMatrix',450,1181,37,6,'gGene',3.5);

// Panel F
drawMatrix('tf-heatmap-f',214,1245,48,122,tfF,motifStops,5);
drawLabels('tf-labels-f',265,1245,122,tfLabelsF,5,8);
drawMatrix('gene-heatmap-f',332,1245,49,122,geneF,geneStops,5);
drawLabels('gene-labels-f',385,1245,122,geneLabelsF,5,8);
colorbar('motif-colorbar-f','MotifMatrix',229,1382,65,7,'gMotif',5);
colorbar('gene-colorbar-f','GeneIntegrationMatrix',342,1382,66,7,'gGene',5);
</script>
</body></html>
